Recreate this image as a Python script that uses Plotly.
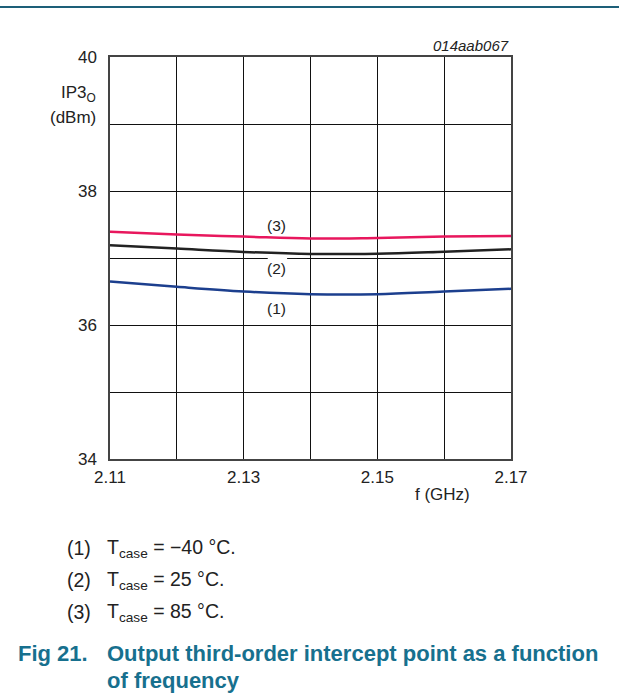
import plotly.graph_objects as go

freq = [2.11, 2.12, 2.13, 2.14, 2.15, 2.16, 2.17]
ip3_m40 = [36.65, 36.57, 36.50, 36.46, 36.46, 36.50, 36.54]
ip3_25 = [37.19, 37.14, 37.09, 37.06, 37.065, 37.095, 37.13]
ip3_85 = [37.39, 37.35, 37.32, 37.29, 37.30, 37.32, 37.33]

x_ticks = [2.11, 2.12, 2.13, 2.14, 2.15, 2.16, 2.17]
x_ticktext = ["2.11", "", "2.13", "", "2.15", "", "2.17"]
y_ticks = [34, 35, 36, 37, 38, 39, 40]
y_ticktext = ["34", "", "36", "", "38", "", "40"]

curve_labels = ["(1)", "(2)", "(3)"]
label_y = [36.25, 36.85, 37.49]
label_x = 2.1349

notes = ["(1)", "(2)", "(3)"]
note_text = ["T<sub>case</sub> = \u221240 \u00b0C.", "T<sub>case</sub> = 25 \u00b0C.", "T<sub>case</sub> = 85 \u00b0C."]

FONT = "Arial"
TEAL = "#17708e"

fig = go.Figure()
for ys, col in [(ip3_m40, "#1c3f8e"), (ip3_25, "#222222"), (ip3_85, "#e8175d")]:
    fig.add_trace(go.Scatter(x=freq, y=ys, mode="lines",
                             line=dict(color=col, width=2.5, shape="spline", smoothing=1.0),
                             showlegend=False, hoverinfo="skip"))

# white gap in gridline behind label (2)
fig.add_shape(type="line", x0=2.1336, x1=2.1365, y0=37, y1=37,
              line=dict(color="white", width=3), layer="above")

for t, yv in zip(curve_labels, label_y):
    fig.add_annotation(x=label_x, y=yv, text=t, showarrow=False,
                       font=dict(family=FONT, size=15.5, color="#222"))

W, H = 619, 696
L, R, T, B = 110, 511, 57, 459
pw, ph = R - L, B - T

def ax_x(xp):
    return (xp - L) / pw

def ax_y(yp):
    return 1 - (yp - T) / ph

ann = []
ann.append(dict(x=511, y=46, text="<i>014aab067</i>", xanchor="right", size=15))
ann.append(dict(x=98, y=94, text="IP3<sub>O</sub>", xanchor="right", size=17))
ann.append(dict(x=98, y=117, text="(dBm)", xanchor="right", size=17))
ann.append(dict(x=472, y=494, text="f (GHz)", xanchor="right", size=17))
for i, (n, t) in enumerate(zip(notes, note_text)):
    yy = 548 + 32 * i
    ann.append(dict(x=65, y=yy, text=n, xanchor="left", size=19.5))
    ann.append(dict(x=105, y=yy, text=t, xanchor="left", size=19.5))
ann.append(dict(x=16, y=653, text="<b>Fig 21.</b>", xanchor="left", size=22, color=TEAL))
ann.append(dict(x=105, y=653, text="<b>Output third-order intercept point as a function</b>",
                xanchor="left", size=22, color=TEAL))
ann.append(dict(x=105, y=680, text="<b>of frequency</b>", xanchor="left", size=22, color=TEAL))
for a in ann:
    fig.add_annotation(x=ax_x(a["x"]), y=ax_y(a["y"]), xref="paper", yref="paper",
                       text=a["text"], xanchor=a["xanchor"], yanchor="middle", showarrow=False,
                       font=dict(family=FONT, size=a["size"], color=a.get("color", "#222")))

# top rule
fig.add_shape(type="line", xref="paper", yref="paper", x0=ax_x(0), x1=ax_x(W), y0=ax_y(7), y1=ax_y(7),
              line=dict(color="#1d5f78", width=2))

fig.update_layout(
    width=W, height=H,
    margin=dict(l=L, r=W - R, t=T, b=H - B),
    paper_bgcolor="white", plot_bgcolor="white",
    font=dict(family=FONT, size=17, color="#222"),
    xaxis=dict(range=[2.11, 2.17], tickvals=x_ticks, ticktext=x_ticktext,
               showgrid=True, gridcolor="#111", gridwidth=1,
               showline=True, linecolor="#444", linewidth=1.5, mirror=True,
               ticks="outside", ticklen=2, tickcolor="rgba(0,0,0,0)",
               zeroline=False, tickfont=dict(size=17)),
    yaxis=dict(range=[34, 40], tickvals=y_ticks, ticktext=y_ticktext,
               showgrid=True, gridcolor="#111", gridwidth=1,
               showline=True, linecolor="#444", linewidth=1.5, mirror=True,
               ticks="outside", ticklen=8, tickcolor="rgba(0,0,0,0)",
               zeroline=False, tickfont=dict(size=17)),
)

fig.write_html("out.html")
